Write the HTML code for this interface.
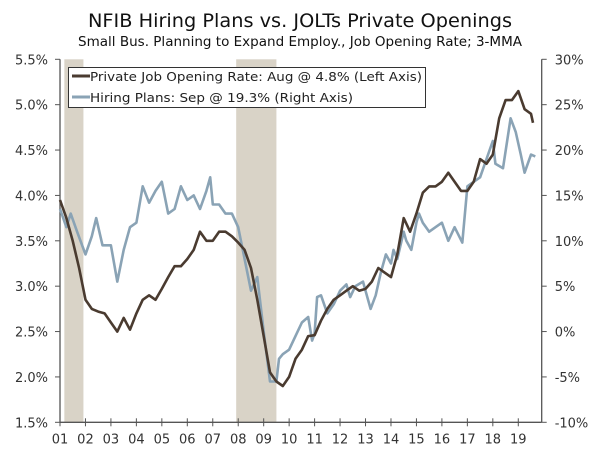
<!DOCTYPE html>
<html><head><meta charset="utf-8"><style>
body{margin:0;background:#fff}
svg{display:block;font-family:"DejaVu Sans","Liberation Sans",sans-serif}
</style></head><body>
<svg id="chart" width="600" height="456">
<text x="300" y="27" text-anchor="middle" font-size="19" fill="#111" textLength="424" lengthAdjust="spacingAndGlyphs">NFIB Hiring Plans vs. JOLTs Private Openings</text>
<text x="300" y="46" text-anchor="middle" font-size="13" fill="#111" textLength="444" lengthAdjust="spacingAndGlyphs">Small Bus. Planning to Expand Employ., Job Opening Rate; 3-MMA</text>
<g id="rec"></g><g id="axes"></g><g id="lines"></g>
<g>
<rect x="68.5" y="67.5" width="357" height="40" fill="#fff" stroke="#333" stroke-width="1"/>
<line x1="72" y1="76" x2="90" y2="76" stroke="#4a3b30" stroke-width="3"/>
<text x="90" y="81" font-size="12.5" fill="#222" textLength="332" lengthAdjust="spacingAndGlyphs">Private Job Opening Rate: Aug @ 4.8% (Left Axis)</text>
<line x1="72" y1="97" x2="90" y2="97" stroke="#8aa3b5" stroke-width="3"/>
<text x="90" y="102" font-size="12.5" fill="#222" textLength="263" lengthAdjust="spacingAndGlyphs">Hiring Plans: Sep @ 19.3% (Right Axis)</text>
</g>
</svg>
<script>
const yearLabels=["01","02","03","04","05","06","07","08","09","10","11","12","13","14","15","16","17","18","19"];
const leftTicks=[1.5,2.0,2.5,3.0,3.5,4.0,4.5,5.0,5.5];
const rightTicks=[-10,-5,0,5,10,15,20,25,30];
const recessions=[[2001.17,2001.92],[2007.92,2009.5]];
const jobDates=[2001,2001.25,2001.5,2001.75,2002,2002.25,2002.5,2002.75,2003,2003.25,2003.5,2003.75,2004,2004.25,2004.5,2004.75,2005,2005.25,2005.5,2005.75,2006,2006.25,2006.5,2006.75,2007,2007.25,2007.5,2007.75,2008,2008.25,2008.5,2008.75,2009,2009.25,2009.5,2009.75,2010,2010.25,2010.5,2010.75,2011,2011.25,2011.5,2011.75,2012,2012.25,2012.5,2012.75,2013,2013.25,2013.5,2013.75,2014,2014.25,2014.5,2014.75,2015,2015.25,2015.5,2015.75,2016,2016.25,2016.5,2016.75,2017,2017.25,2017.5,2017.75,2018,2018.25,2018.5,2018.75,2019,2019.25,2019.5,2019.58];
const jobValues=[3.95,3.75,3.5,3.2,2.85,2.75,2.72,2.7,2.6,2.5,2.65,2.52,2.7,2.85,2.9,2.85,2.97,3.1,3.22,3.22,3.3,3.4,3.6,3.5,3.5,3.6,3.6,3.55,3.48,3.4,3.2,2.85,2.45,2.05,1.95,1.9,2.0,2.2,2.3,2.45,2.46,2.62,2.75,2.85,2.9,2.95,3.0,2.95,2.97,3.05,3.2,3.15,3.1,3.35,3.75,3.6,3.8,4.03,4.1,4.1,4.15,4.25,4.15,4.05,4.05,4.15,4.4,4.35,4.45,4.85,5.05,5.05,5.15,4.95,4.9,4.8];
const hireDates=[2001,2001.25,2001.42,2001.67,2002,2002.25,2002.42,2002.67,2003,2003.25,2003.5,2003.75,2004,2004.25,2004.5,2004.75,2005,2005.25,2005.5,2005.75,2006,2006.25,2006.5,2006.75,2006.9,2007,2007.25,2007.5,2007.75,2008,2008.25,2008.5,2008.75,2009,2009.25,2009.5,2009.6,2009.75,2010,2010.25,2010.5,2010.75,2010.9,2011,2011.1,2011.25,2011.5,2011.75,2012,2012.25,2012.4,2012.6,2012.9,2013,2013.2,2013.4,2013.6,2013.8,2014,2014.1,2014.25,2014.5,2014.6,2014.8,2015,2015.1,2015.25,2015.5,2015.75,2016,2016.25,2016.5,2016.8,2017,2017.25,2017.5,2017.75,2018,2018.1,2018.4,2018.7,2018.9,2019.1,2019.25,2019.5,2019.67];
const hireValues=[13.5,11.5,13,11,8.5,10.5,12.5,9.5,9.5,5.5,9,11.5,12,16,14.2,15.5,16.5,13,13.5,16,14.5,15,13.5,15.5,17,14,14,13,13,11.5,8,4.5,6,0,-5.5,-5.5,-3,-2.5,-2,-0.5,1,1.6,-1,-0.2,3.8,4,2,3,4.5,5.2,3.8,5,5.5,4.5,2.5,4,6.5,8.5,7.5,9,8,11,10,9,12,13,12,11,11.5,12,10,11.5,9.8,16,16.5,17,19,21,18.5,18,23.5,22,19.5,17.5,19.5,19.3];
const NS="http://www.w3.org/2000/svg";
const X0=60,X1=541.7,Y0=59.3,Y1=422.3,YS=25.46;
const xs=t=>X0+(t-2001)*YS;
const yL=v=>Y1-(v-1.5)/4*(Y1-Y0);
const yR=v=>Y1-(v+10)/40*(Y1-Y0);
function mk(tag,attrs,parent){const e=document.createElementNS(NS,tag);for(const k in attrs)e.setAttribute(k,attrs[k]);parent.appendChild(e);return e;}
const rec=document.getElementById('rec'),ax=document.getElementById('axes'),ln=document.getElementById('lines');
recessions.forEach(r=>{const e=mk('rect',{x:xs(r[0]),y:Y0,width:xs(r[1])-xs(r[0]),height:Y1-Y0,fill:'#d9d3c7'},rec);

});
let e=mk('line',{x1:X0,y1:Y0,x2:X0,y2:Y1,stroke:'#555','stroke-width':1.3},ax);


e=mk('line',{x1:X1,y1:Y0,x2:X1,y2:Y1,stroke:'#555','stroke-width':1.3},ax);


e=mk('line',{x1:X0,y1:Y1,x2:X1,y2:Y1,stroke:'#555','stroke-width':1.3},ax);


leftTicks.forEach(v=>{const y=yL(v);mk('line',{x1:X0-5,y1:y,x2:X0,y2:y,stroke:'#555'},ax);
const t=mk('text',{x:X0-12,y:y+5,'text-anchor':'end','font-size':13,fill:'#333'},ax);t.textContent=v.toFixed(1)+'%';

});
rightTicks.forEach(v=>{const y=yR(v);mk('line',{x1:X1,y1:y,x2:X1+5,y2:y,stroke:'#555'},ax);
const t=mk('text',{x:X1+13,y:y+5,'font-size':13,fill:'#333'},ax);t.textContent=v+'%';

});
yearLabels.forEach((l,i)=>{const x=xs(2001+i);mk('line',{x1:x,y1:Y1-4,x2:x,y2:Y1+4,stroke:'#555'},ax);
const t=mk('text',{x:x,y:Y1+21,'text-anchor':'middle','font-size':13,fill:'#333'},ax);t.textContent=l;

});
let p=mk('path',{d:hireDates.map((d,i)=>(i?'L':'M')+xs(d).toFixed(1)+','+yR(hireValues[i]).toFixed(1)).join(''),fill:'none',stroke:'#8aa3b5','stroke-width':2.6,'stroke-linejoin':'round'},ln);


p=mk('path',{d:jobDates.map((d,i)=>(i?'L':'M')+xs(d).toFixed(1)+','+yL(jobValues[i]).toFixed(1)).join(''),fill:'none',stroke:'#4a3b30','stroke-width':2.6,'stroke-linejoin':'round'},ln);


</script>
</body></html>
